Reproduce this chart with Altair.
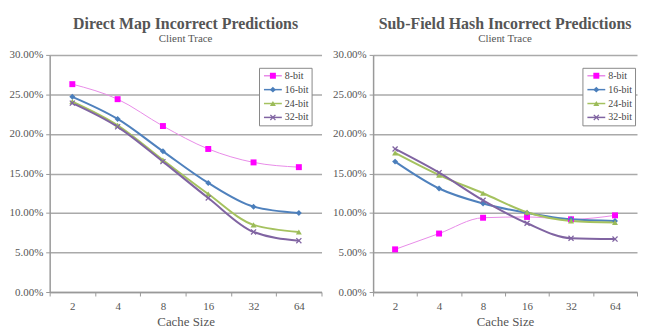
import altair as alt
import pandas as pd

sizes = ["2", "4", "8", "16", "32", "64"]
series = ["8-bit", "16-bit", "24-bit", "32-bit"]

# Direct Map Incorrect Predictions (percent)
dm_8 = [26.3, 24.4, 21.0, 18.1, 16.4, 15.8]
dm_16 = [24.7, 21.9, 17.8, 13.8, 10.8, 10.0]
dm_24 = [24.1, 21.1, 16.7, 12.4, 8.5, 7.6]
dm_32 = [23.9, 20.9, 16.5, 11.9, 7.6, 6.5]

# Sub-Field Hash Incorrect Predictions (percent)
sf_8 = [5.4, 7.4, 9.4, 9.5, 9.2, 9.7]
sf_16 = [16.5, 13.1, 11.2, 10.0, 9.2, 9.0]
sf_24 = [17.6, 14.8, 12.5, 10.1, 9.0, 8.8]
sf_32 = [18.1, 15.1, 11.6, 8.7, 6.8, 6.7]

y_ticks = [0, 0.05, 0.10, 0.15, 0.20, 0.25, 0.30]

marker_colors = ["#FF00FF", "#4A7EBB", "#9BBB59", "#8064A2"]
line_colors = ["#E88BE8", "#4F81BD", "#A5C25F", "#8064A2"]
x_path = ("M-1,-0.7L-0.7,-1L0,-0.3L0.7,-1L1,-0.7L0.3,0L1,0.7L0.7,1L0,0.3"
          "L-0.7,1L-1,0.7L-0.3,0Z")
shapes = ["square", "diamond", "triangle-up", x_path]

# line-legend keys (zero-width suffix keeps the two legends separate)
ZW = "\u200b"
line_series = [s + ZW for s in series]

FONT = "Liberation Serif"


def frame(values_by_series):
    rows = []
    for s, ls, vals in zip(series, line_series, values_by_series):
        for size, v in zip(sizes, vals):
            rows.append({"size": size, "series": s, "line_series": ls,
                         "value": v / 100.0})
    return pd.DataFrame(rows)


def panel(df, title, w, h):
    x = alt.X("size:N", sort=sizes, title="Cache Size",
              scale=alt.Scale(type="band", paddingInner=0, paddingOuter=0),
              axis=alt.Axis(labelAngle=0, tickBand="extent", grid=False,
                            tickSize=4, labelPadding=5, titlePadding=4))
    y = alt.Y("value:Q", scale=alt.Scale(domain=[0, 0.3], nice=False),
              axis=alt.Axis(format=".2%", values=y_ticks, title=None,
                            grid=True, tickSize=4, labelPadding=3))
    common_legend = dict(title=None, orient="none", legendX=211, legendY=13,
                         padding=3, rowPadding=4, labelFont=FONT,
                         labelFontSize=10, symbolSize=36, symbolOffset=6,
                         labelOffset=7, labelAlign="left")
    line = alt.Chart(df).mark_line(interpolate="monotone").encode(
        x=x, y=y,
        stroke=alt.Stroke("line_series:N", sort=line_series,
                          scale=alt.Scale(domain=line_series,
                                          range=line_colors),
                          legend=alt.Legend(symbolType="M-3,0L3,0",
                                            symbolStrokeWidth=1.5,
                                            labelColor="transparent",
                                            strokeColor="#888",
                                            fillColor="white",
                                            **common_legend)),
        strokeWidth=alt.condition(alt.datum.series == "8-bit",
                                  alt.value(1), alt.value(2)),
    )
    pts = alt.Chart(df).mark_point(filled=True, opacity=1, size=36).encode(
        x=x, y=y,
        color=alt.Color("series:N", sort=series,
                        scale=alt.Scale(domain=series, range=marker_colors),
                        legend=alt.Legend(labelColor="#444", **common_legend)),
        shape=alt.Shape("series:N", sort=series,
                        scale=alt.Scale(domain=series, range=shapes),
                        legend=alt.Legend(labelColor="#444", **common_legend)),
    )
    return alt.layer(line, pts).properties(
        width=w, height=h,
        title=alt.TitleParams(title, subtitle="Client Trace", font=FONT,
                              fontSize=16, fontWeight="bold", color="#555",
                              subtitleFont=FONT, subtitleFontSize=11,
                              subtitleColor="#555", subtitlePadding=1,
                              anchor="middle", offset=5),
    )


left = panel(frame([dm_8, dm_16, dm_24, dm_32]),
             "Direct Map Incorrect Predictions", 274, 239)
right = panel(frame([sf_8, sf_16, sf_24, sf_32]),
              "Sub-Field Hash Incorrect Predictions", 266, 239)

chart = alt.hconcat(left, right, spacing=9).resolve_scale(
    color="independent", shape="independent", stroke="independent",
    x="independent", y="independent",
).resolve_legend(
    color="independent", shape="independent", stroke="independent",
).properties(
    padding={"left": 0, "top": 6, "right": 0, "bottom": 0},
).configure_view(
    stroke="transparent",
).configure_axis(
    labelFont=FONT, labelFontSize=11, labelColor="#555",
    titleFont=FONT, titleFontSize=13, titleFontWeight="normal",
    titleColor="#555",
    domainColor="#999", domainWidth=1.5, tickColor="#999", tickWidth=1,
    gridColor="#aaa", gridWidth=1.5,
)

chart.save("out.html", embed_options={"renderer": "svg", "actions": False})
